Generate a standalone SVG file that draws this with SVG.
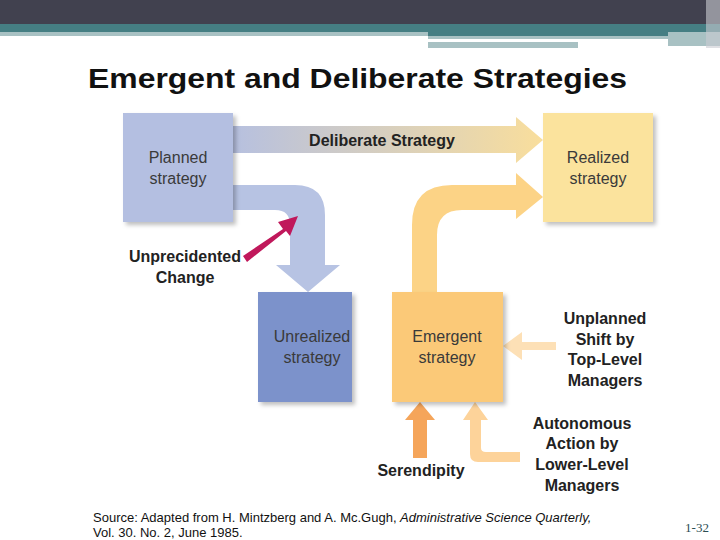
<svg xmlns="http://www.w3.org/2000/svg" width="720" height="540" viewBox="0 0 720 540">
<defs>
<linearGradient id="dg" x1="0" x2="1" y1="0" y2="0"><stop offset="0" stop-color="#b6c0e0"/><stop offset="1" stop-color="#f9de9c"/></linearGradient>
<filter id="sh" x="-10%" y="-10%" width="130%" height="130%"><feDropShadow dx="3" dy="3" stdDeviation="2" flood-color="#000" flood-opacity="0.25"/></filter>
<style>
.box{font-family:"Liberation Sans",Arial,sans-serif;font-size:16px;fill:#3a3a3a;text-anchor:middle}
.lab{font-family:"Liberation Sans",Arial,sans-serif;font-size:16px;font-weight:bold;fill:#222;text-anchor:middle}
</style>
</defs>
<rect width="720" height="540" fill="#fff"/>
<g id="header">
<rect x="0" y="0" width="720" height="24" fill="#41414f"/>
<rect x="0" y="24" width="720" height="8" fill="#457e83"/>
<rect x="0" y="32" width="428" height="4" fill="#a8c1c3"/>
<rect x="428" y="32" width="290" height="4" fill="#457e83"/>
<rect x="428" y="36" width="240" height="3" fill="#a8c1c3"/>
<rect x="428" y="42" width="150" height="6" fill="#a8c1c3"/>
<rect x="668" y="32" width="52" height="14" fill="#a8c1c3"/>
<rect x="706" y="0" width="14" height="48" fill="#c9ccd2" opacity="0.6"/>
</g>
<text x="88" y="88" font-family="'Liberation Sans',Arial,sans-serif" font-size="28" font-weight="bold" textLength="539" lengthAdjust="spacingAndGlyphs" fill="#111">Emergent and Deliberate Strategies</text>
<g id="connectors">
<path d="M230 126 H516 V117 L543 140 L516 163 V153 H230 Z" fill="url(#dg)"/>
<path d="M230 185 H295 Q325 185 325 215 V265 H340 L308 292 L276 265 H290 V225 Q290 210 275 210 H230 Z" fill="#b7c3e3"/>
<path d="M412 294 V225 Q412 185 452 185 H516 V173 L543 197 L516 219 V210 H462 Q437 210 437 235 V294 Z" fill="#fcd386"/>
<path d="M243 256 L283 229 L278 222 L298 216 L290 236 L286 231 L247 262 Z" fill="#c0185b"/>
<path d="M556 342 H522 V332 L503 346 L522 360 V350 H556 Z" fill="#fde0b6"/>
<path d="M413 458 V420 H405 L420 402 L435 420 H427 V458 Z" fill="#f5a55a"/>
<path d="M470 420 H463 L475 402 L488 420 H481 V448 Q481 452 486 452 H520 V462 H478 Q470 462 470 454 Z" fill="#fdd39a"/>
</g>
<g id="planned"><rect x="123" y="113" width="110" height="109" fill="#b4bfe1" filter="url(#sh)"/><text class="box" x="178" y="163">Planned</text><text class="box" x="178" y="184">strategy</text></g>
<g id="realized"><rect x="543" y="113" width="110" height="109" fill="#fbe39d" filter="url(#sh)"/><text class="box" x="598" y="163">Realized</text><text class="box" x="598" y="184">strategy</text></g>
<g id="unrealized"><rect x="258" y="292" width="94" height="110" fill="#7b92cb" filter="url(#sh)"/><text class="box" x="312" y="342" font-size="15">Unrealized</text><text class="box" x="312" y="363" font-size="15">strategy</text></g>
<g id="emergent"><rect x="392" y="292" width="111" height="110" fill="#fbc978" filter="url(#sh)"/><text class="box" x="447" y="342">Emergent</text><text class="box" x="447" y="363">strategy</text></g>
<g id="labels">
<text class="lab" x="382" y="146">Deliberate Strategy</text>
<text class="lab" x="185" y="262">Unprecidented</text><text class="lab" x="185" y="283">Change</text>
<text class="lab" x="605" y="324">Unplanned</text><text class="lab" x="605" y="345">Shift by</text><text class="lab" x="605" y="365">Top-Level</text><text class="lab" x="605" y="386">Managers</text>
<text class="lab" x="582" y="429">Autonomous</text><text class="lab" x="582" y="449">Action by</text><text class="lab" x="582" y="470">Lower-Level</text><text class="lab" x="582" y="491">Managers</text>
<text class="lab" x="421" y="476">Serendipity</text>
</g>
<text x="93" y="522" font-family="'Liberation Sans',Arial,sans-serif" font-size="13" fill="#111">Source: Adapted from H. Mintzberg and A. Mc.Gugh, <tspan font-style="italic">Administrative Science Quarterly,</tspan></text>
<text x="93" y="537" font-family="'Liberation Sans',Arial,sans-serif" font-size="13" fill="#111">Vol. 30. No. 2, June 1985.</text>
<text x="697" y="532" font-family="'Liberation Serif',serif" font-size="13" text-anchor="middle" fill="#2c4d52">1-32</text>
</svg>
